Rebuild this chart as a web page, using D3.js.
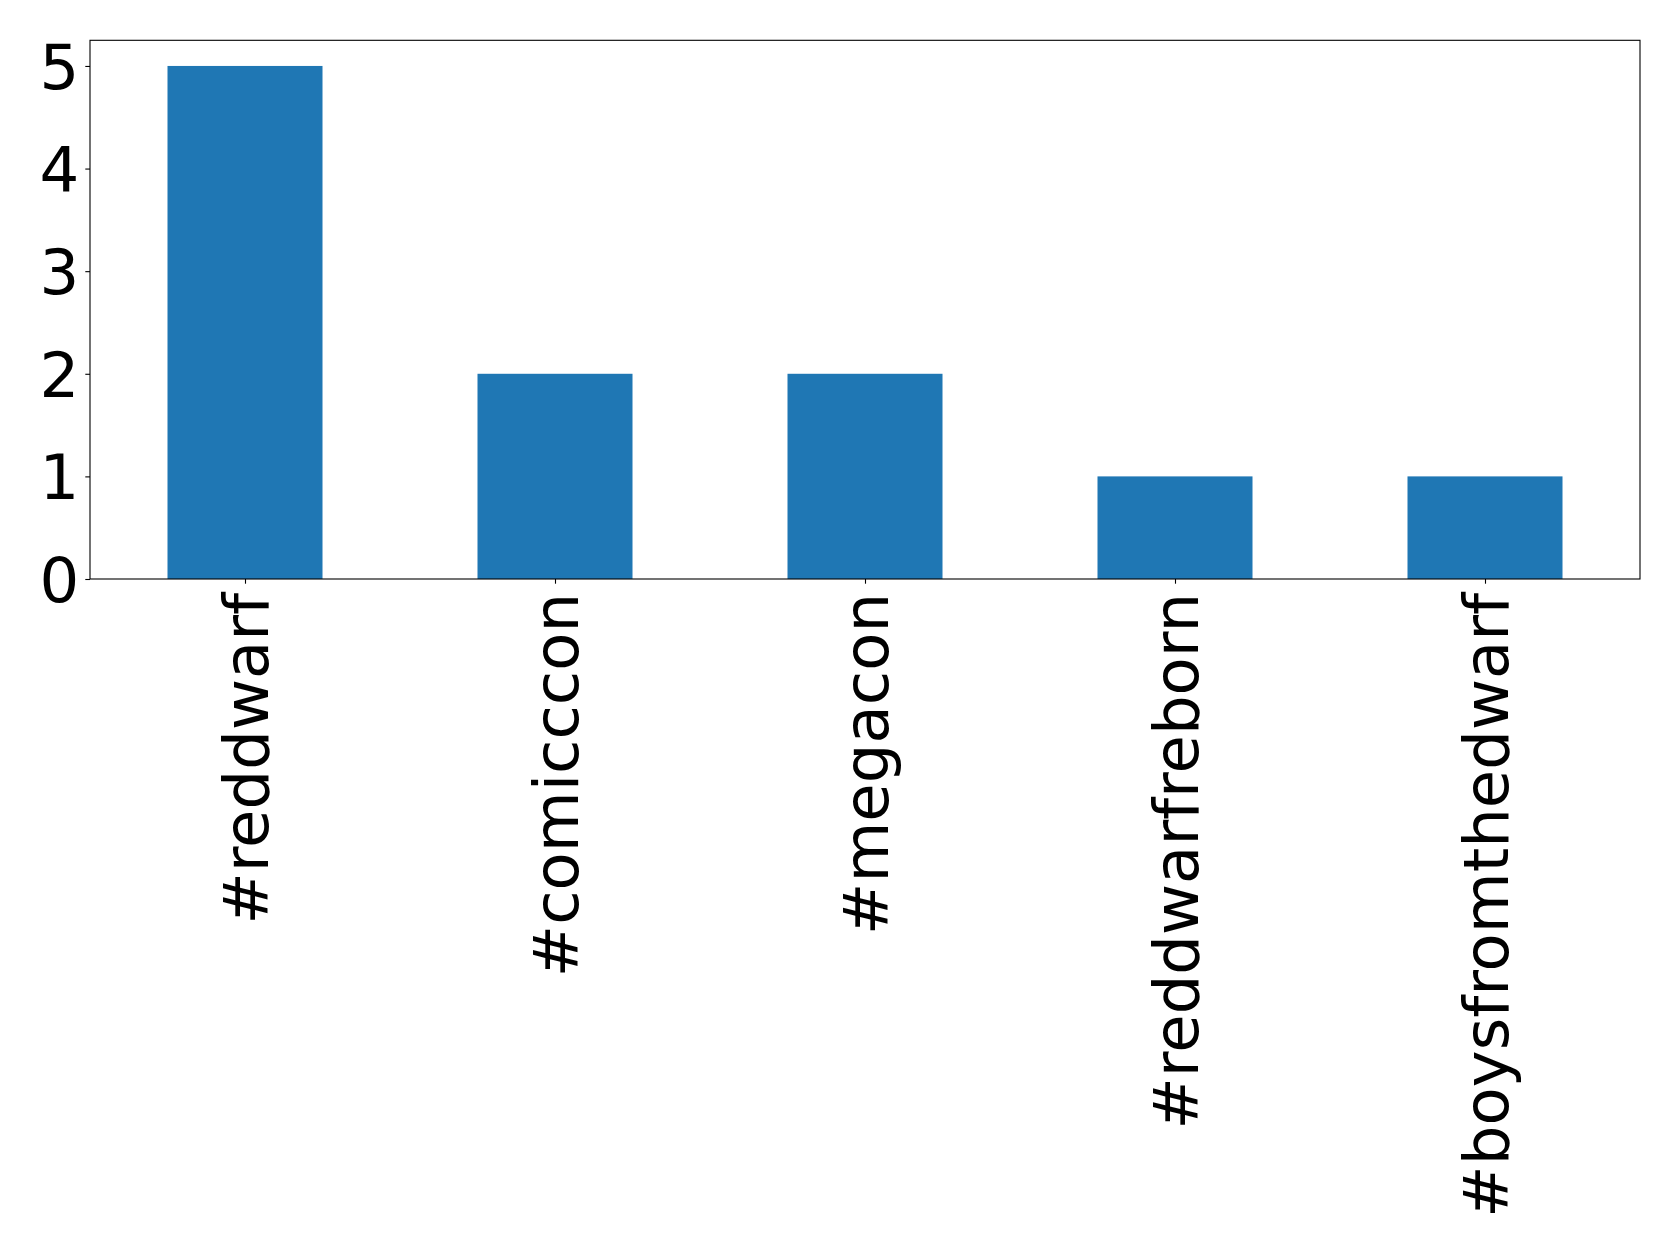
<!DOCTYPE html>
<html><head><meta charset="utf-8">
<script src="https://cdn.jsdelivr.net/npm/d3@7"></script>
<style>body{margin:0;background:#fff;} svg{display:block;}</style>
</head><body>
<svg id="chart" width="1679" height="1253"></svg>
<script>
const categories = ["#reddwarf", "#comicccon", "#megacon", "#reddwarfreborn", "#boysfromthedwarf"];
const counts = [5, 2, 2, 1, 1];
const yTicks = [0, 1, 2, 3, 4, 5];

(function () {
const svg = d3.select("#chart");
const mLeft = 90, mRight = 1640, mTop = 40.3, mBottom = 579;
const font = "DejaVu Sans";
const fs = 62.5;

const x = d3.scaleLinear().domain([-0.5, categories.length - 0.5]).range([mLeft, mRight]);
const y = d3.scaleLinear().domain([0, 5.25]).range([mBottom, mTop]);

svg.append("g").selectAll("rect").data(counts).join("rect")
  .attr("x", (d, i) => x(i - 0.25))
  .attr("width", (d, i) => x(i + 0.25) - x(i - 0.25))
  .attr("y", d => y(d))
  .attr("height", d => y(0) - y(d))
  .attr("fill", "#1f77b4");

svg.append("rect").attr("x", mLeft).attr("y", mTop).attr("width", mRight - mLeft).attr("height", mBottom - mTop)
  .attr("fill", "none").attr("stroke", "#000").attr("stroke-width", 1.1);

const yAxis = svg.append("g").attr("transform", `translate(${mLeft},0)`)
  .call(d3.axisLeft(y).tickValues(yTicks).tickFormat(d3.format("d")).tickSize(4.7).tickPadding(6));
yAxis.select(".domain").remove();
yAxis.selectAll("text").attr("font-family", font).attr("font-size", fs).attr("fill", "#000").attr("dy", "0.36em");
yAxis.selectAll("line").attr("stroke", "#000").attr("stroke-width", 1.1);

const xAxis = svg.append("g").attr("transform", `translate(0,${mBottom})`)
  .call(d3.axisBottom(x).tickValues(d3.range(categories.length)).tickFormat(i => categories[i]).tickSize(4.7).tickPadding(0));
xAxis.select(".domain").remove();
xAxis.selectAll("line").attr("stroke", "#000").attr("stroke-width", 1.1);
xAxis.selectAll("text")
  .attr("font-family", font).attr("font-size", fs).attr("fill", "#000")
  .attr("text-anchor", "end")
  .attr("transform", "translate(0,14) rotate(-90)")
  .attr("x", 0).attr("y", 0).attr("dy", "0.36em");
})();
</script>
</body></html>
